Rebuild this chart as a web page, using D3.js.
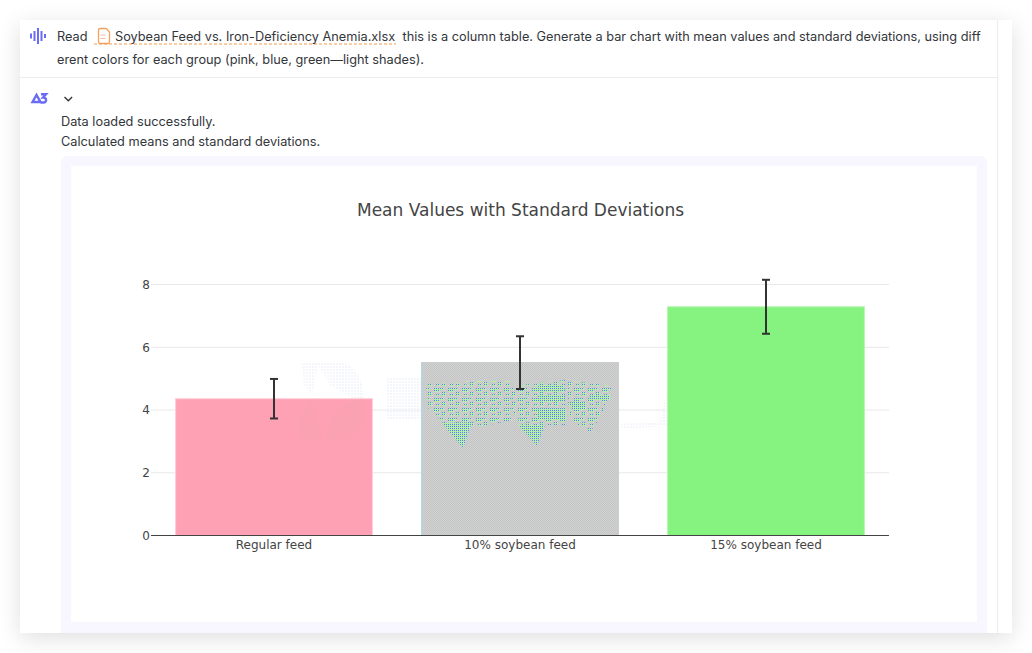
<!DOCTYPE html>
<html>
<head>
<meta charset="utf-8">
<script src="https://cdn.jsdelivr.net/npm/d3@7"></script>
<style>
html, body { margin: 0; padding: 0; background: #fff; overflow: hidden; }
#card { position: absolute; left: 20px; top: 20px; width: 992px; height: 613px; background: #fff; box-shadow: 0 5px 22px rgba(0,0,0,.13); }
#page { position: absolute; left: 0; top: 0; }
.ui { font-family: Inter, "Noto Sans", sans-serif; font-size: 12.75px; fill: #33363b; }
.chart-text { font-family: "DejaVu Sans", Verdana, sans-serif; fill: #444; }
</style>
</head>
<body>
<div id="card"></div>
<div id="page"></div>
<script>
var groups = ["Regular feed", "10% soybean feed", "15% soybean feed"]
var means = [4.36, 5.51, 7.29]
var stdDevs = [0.63, 0.84, 0.86]
var yTicks = [0, 2, 4, 6, 8]
var barFills = ["#ffa1b4", "url(#glitch)", "#86f27f"]
var barEdges = ["#ffccd6", "#c8c9ca", "#b4f7ae"]

var width = 1032, height = 653

var svg = d3.select("#page").append("svg")
    .attr("width", width)
    .attr("height", height)

// patterns for the broken rendering of the middle bar
var defs = svg.append("defs")
var glitch = defs.append("pattern").attr("id", "glitch")
    .attr("width", 2).attr("height", 2).attr("patternUnits", "userSpaceOnUse")
glitch.append("rect").attr("width", 2).attr("height", 2).attr("fill", "#d3d3d3")
glitch.append("rect").attr("width", 1).attr("height", 1).attr("fill", "#c2c4c4")
glitch.append("rect").attr("x", 1).attr("y", 1).attr("width", 1).attr("height", 1).attr("fill", "#c2c4c4")

var dense = defs.append("pattern").attr("id", "dense")
    .attr("width", 2).attr("height", 2).attr("patternUnits", "userSpaceOnUse")
dense.append("rect").attr("width", 2).attr("height", 2).attr("fill", "#b4efa6")
dense.append("rect").attr("width", 1).attr("height", 1).attr("fill", "#5f78ff")

// same dots, broken up into patches with grey holes
var sparse = defs.append("pattern").attr("id", "sparse")
    .attr("width", 14).attr("height", 10).attr("patternUnits", "userSpaceOnUse")
sparse.append("rect").attr("width", 6).attr("height", 2).attr("fill", "url(#dense)")
sparse.append("rect").attr("x", 8).attr("y", 2).attr("width", 4).attr("height", 4).attr("fill", "url(#dense)")
sparse.append("rect").attr("x", 2).attr("y", 4).attr("width", 4).attr("height", 2).attr("fill", "url(#dense)")
sparse.append("rect").attr("x", 0).attr("y", 8).attr("width", 10).attr("height", 2).attr("fill", "url(#dense)")

var mark = defs.append("pattern").attr("id", "mark")
    .attr("width", 3).attr("height", 3).attr("patternUnits", "userSpaceOnUse")
mark.append("rect").attr("width", 2).attr("height", 2).attr("fill", "#f5f5fc")

// ---- page around the chart ----
svg.append("line").attr("x1", 20).attr("x2", 997).attr("y1", 77.5).attr("y2", 77.5).attr("stroke", "#ececee")
svg.append("line").attr("x1", 997.5).attr("x2", 997.5).attr("y1", 20).attr("y2", 633).attr("stroke", "#ececee")
svg.append("path").attr("fill", "#f8f7ff")
    .attr("d", "M61,633V162a6,6 0 0 1 6,-6H981a6,6 0 0 1 6,6V633Z")
svg.append("rect").attr("x", 71).attr("y", 166).attr("width", 906).attr("height", 456).attr("fill", "#fff")

// voice icon
var voiceBars = [[31, 33.5, 38.5], [34.5, 31, 41], [38, 28, 44], [41.5, 31, 41], [45, 34, 38]]
svg.selectAll(".voice").data(voiceBars).enter().append("line")
    .attr("x1", function(d) { return d[0] }).attr("x2", function(d) { return d[0] })
    .attr("y1", function(d) { return d[1] }).attr("y2", function(d) { return d[2] })
    .attr("stroke", "#6a6cf5").attr("stroke-width", 2)

svg.append("text").attr("class", "ui").attr("x", 57).attr("y", 41).text("Read")

// file chip
svg.append("path").attr("fill", "#fff").attr("stroke", "#f5a05c").attr("stroke-width", 1.3)
    .attr("d", "M100,28.5h6l3.5,3.5v10a1.5,1.5 0 0 1 -1.5,1.5h-8a1.5,1.5 0 0 1 -1.5,-1.5v-12a1.5,1.5 0 0 1 1.5,-1.5z")
svg.append("path").attr("stroke", "#f7b9a0").attr("stroke-width", 1.2).attr("d", "M100.5,35h5M100.5,38.5h5")
svg.append("line").attr("x1", 94).attr("x2", 396).attr("y1", 44).attr("y2", 44)
    .attr("stroke", "#f59a4a").attr("stroke-dasharray", "3 2")
svg.append("text").attr("class", "ui").attr("x", 115).attr("y", 41).text("Soybean Feed vs. Iron-Deficiency Anemia.xlsx")
svg.append("text").attr("class", "ui").attr("x", 402.5).attr("y", 41)
    .text("this is a column table. Generate a bar chart with mean values and standard deviations, using diff")
svg.append("text").attr("class", "ui").attr("x", 57).attr("y", 64)
    .text("erent colors for each group (pink, blue, green\u2014light shades).")

// assistant logo and chevron
svg.append("path").attr("fill", "none").attr("stroke", "#6a6cf5").attr("stroke-width", 2.4)
    .attr("d", "M32.5,102L36.5,95L40.5,102ZM41,94.2h5l-3,3.3c4,0 4,5 0.5,5h-3")
svg.append("path").attr("fill", "none").attr("stroke", "#33363b").attr("stroke-width", 1.4)
    .attr("d", "M64.5,97l3.8,3.8l3.8,-3.8")

svg.append("text").attr("class", "ui").attr("x", 61).attr("y", 126).text("Data loaded successfully.")
svg.append("text").attr("class", "ui").attr("x", 61).attr("y", 146).text("Calculated means and standard deviations.")

// ---- chart ----
var x = d3.scaleBand().domain(groups).range([151, 889]).paddingInner(0.2).paddingOuter(0.1)
var y = d3.scaleLinear().domain([0, 8]).range([535.5, 284.5])

svg.append("text").attr("class", "chart-text")
    .attr("x", 520.5).attr("y", 216)
    .attr("text-anchor", "middle")
    .attr("font-size", "17px")
    .attr("fill", "#333")
    .text("Mean Values with Standard Deviations")

var yAxis = svg.append("g")
    .attr("transform", "translate(151,0)")
    .call(d3.axisLeft(y).tickValues(yTicks).tickSize(0).tickPadding(1))
yAxis.select(".domain").remove()
yAxis.selectAll("text").attr("class", "chart-text").attr("font-size", "12px")

svg.selectAll(".grid").data(yTicks.filter(function(d) { return d > 0 })).enter().append("line")
    .attr("x1", 151).attr("x2", 889)
    .attr("y1", function(d) { return y(d) }).attr("y2", function(d) { return y(d) })
    .attr("stroke", "#e8e8ea")

// faint watermark behind the bars
svg.append("g").attr("fill", "url(#mark)").selectAll("path")
    .data(["M301,362H335C355,362 366,380 364,405L330,385L318,365L312,395L304,385Z",
           "M386,378H425V420H386Z", "M620,424L660,422L668,385V425L640,428L620,428Z"])
    .enter().append("path").attr("d", function(d) { return d })

var bars = svg.selectAll(".bar").data(groups).enter().append("rect")
    .attr("class", "bar")
    .attr("x", function(d) { return x(d) })
    .attr("y", function(d, i) { return y(means[i]) })
    .attr("width", x.bandwidth())
    .attr("height", function(d, i) { return y(0) - y(means[i]) })
    .attr("fill", function(d, i) { return barFills[i] })
    .attr("stroke", function(d, i) { return barEdges[i] })
    .attr("stroke-width", 1)

// leaf of the watermark showing through the pink bar
svg.append("path").attr("fill", "#faa1b2")
    .attr("d", "M310,399C302,412 296,428 300,436C304,441 320,441 322,441C320,425 316,410 310,399ZM326,441C345,441 362,436 364,420C366,410 364,404 362,399C340,403 325,420 326,441Z")

// left edge of the middle bar is the colour asked for
svg.append("line")
    .attr("x1", x(groups[1]) + 0.5).attr("x2", x(groups[1]) + 0.5)
    .attr("y1", y(means[1])).attr("y2", y(0))
    .attr("stroke", "#add8e6").attr("stroke-width", 1)

// what is left of the blue and green layers in the middle bar
svg.append("g").attr("fill", "url(#dense)").selectAll("path")
    .data(["M442,423L472,422L463,448Z", "M518,425L545,425L537,446Z",
           "M537,385H564V392H537Z", "M538,395H565V402H538Z", "M537,408H566V420H537Z",
           "M590,395H610V400H590Z", "M572,402H586V410H572Z"])
    .enter().append("path").attr("d", function(d) { return d })
svg.append("g").attr("fill", "url(#sparse)").selectAll("path")
    .data(["M426,384L466,383L470,398L445,425L428,408Z", "M466,381L510,381L512,420L475,428L446,424L470,398Z",
           "M512,386L530,384L565,380V425L522,426L512,410Z", "M566,380L612,386L602,415L590,432L570,420Z"])
    .enter().append("path").attr("d", function(d) { return d })

svg.append("line").attr("x1", 151).attr("x2", 889).attr("y1", y(0)).attr("y2", y(0))
    .attr("stroke", "#444").attr("stroke-width", 1)

// error bars
var errs = svg.selectAll(".err").data(groups).enter().append("g").attr("class", "err")
    .attr("stroke", "#333").attr("stroke-width", 2)
errs.append("line")
    .attr("x1", function(d) { return x(d) + x.bandwidth() / 2 })
    .attr("x2", function(d) { return x(d) + x.bandwidth() / 2 })
    .attr("y1", function(d, i) { return y(means[i] + stdDevs[i]) })
    .attr("y2", function(d, i) { return y(means[i] - stdDevs[i]) })
errs.selectAll(".cap").data(function(d, i) {
        return [means[i] + stdDevs[i], means[i] - stdDevs[i]].map(function(v) { return { g: d, v: v } })
    }).enter().append("line")
    .attr("x1", function(d) { return x(d.g) + x.bandwidth() / 2 - 4 })
    .attr("x2", function(d) { return x(d.g) + x.bandwidth() / 2 + 4 })
    .attr("y1", function(d) { return y(d.v) })
    .attr("y2", function(d) { return y(d.v) })

var xAxis = svg.append("g")
    .attr("transform", "translate(0," + y(0) + ")")
    .call(d3.axisBottom(x).tickSize(0).tickPadding(5))
xAxis.select(".domain").remove()
xAxis.selectAll("text").attr("class", "chart-text").attr("font-size", "12px")
</script>
</body>
</html>
